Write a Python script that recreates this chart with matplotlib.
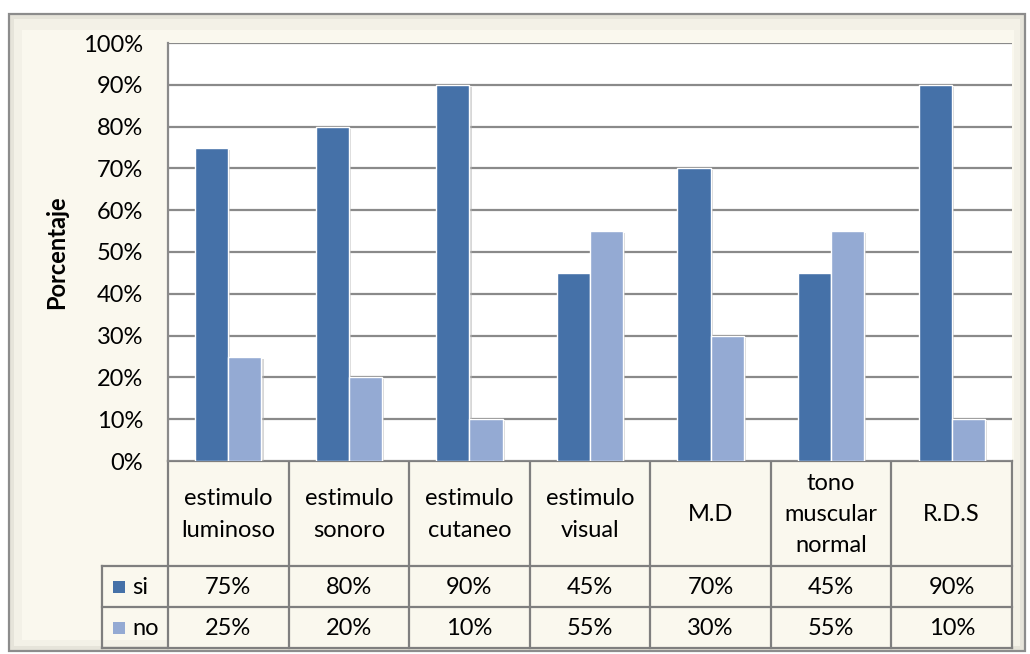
import matplotlib
matplotlib.use("Agg")
import matplotlib.pyplot as plt
from matplotlib.patches import Rectangle
from matplotlib.lines import Line2D
import matplotlib.patheffects as pe

categories = ["estimulo\nluminoso", "estimulo\nsonoro", "estimulo\ncutaneo",
              "estimulo\nvisual", "M.D", "tono\nmuscular\nnormal", "R.D.S"]
series_names = ["si", "no"]
si_values = [75, 80, 90, 45, 70, 45, 90]
no_values = [25, 20, 10, 55, 30, 55, 10]
yticks = [0, 10, 20, 30, 40, 50, 60, 70, 80, 90, 100]

W, H = 1030, 654
fig = plt.figure(figsize=(W / 100, H / 100), dpi=100)
fig.patch.set_facecolor("white")

FONT = "Lato"
FS = 17
COL_SI = "#4571A8"
COL_NO = "#94AAD3"
GRID = "#8A8A8A"
BG = "#FAF8EE"


def fx(px):
    return px / W


def fy(py):
    return 1 - py / H


# outer chart frame with a bevelled edge
frame = fig.add_axes([0, 0, 1, 1], zorder=0)
frame.set_xlim(0, W)
frame.set_ylim(H, 0)
frame.axis("off")
frame.add_patch(Rectangle((9, 14), 1016, 637, facecolor="#E6E4DA",
                          edgecolor="#8C8C8C", lw=1.6))
frame.add_patch(Rectangle((14, 19), 1006, 627, facecolor="#F3F1E7",
                          edgecolor="none"))
frame.add_patch(Rectangle((22, 30), 992, 610, facecolor=BG,
                          edgecolor="none"))

# plot area
L, R, T, B = 168, 1012, 43, 461
ax = fig.add_axes([fx(L), fy(B), fx(R) - fx(L), fy(T) - fy(B)], zorder=2)
ax.set_facecolor("white")
n = len(categories)
ax.set_xlim(0, n)
ax.set_ylim(0, 100)

bw = 0.275
xs = [i + 0.5 for i in range(n)]
shadow = [pe.SimplePatchShadow(offset=(1.5, -1.5), shadow_rgbFace="#B0B0B0",
                               alpha=0.5), pe.Normal()]
b1 = ax.bar([x - bw / 2 for x in xs], si_values, width=bw, color=COL_SI,
            edgecolor="white", lw=1.0, zorder=3)
b2 = ax.bar([x + bw / 2 for x in xs], no_values, width=bw, color=COL_NO,
            edgecolor="white", lw=1.0, zorder=3)
for b in list(b1) + list(b2):
    b.set_path_effects(shadow)

ax.set_yticks(yticks)
ax.set_yticklabels([f"{v}%" for v in yticks], fontfamily=FONT, fontsize=FS)
ax.yaxis.grid(True, color=GRID, lw=1.6, zorder=1)
ax.set_axisbelow(True)
ax.tick_params(axis="y", length=0, pad=18)
ax.set_xticks([])
for s in ["top", "right", "bottom"]:
    ax.spines[s].set_visible(False)
ax.spines["left"].set_color(GRID)
ax.spines["left"].set_linewidth(1.6)
ax.set_ylabel("Porcentaje", fontfamily=FONT, fontsize=17, fontweight="bold")
ax.yaxis.set_label_coords(-0.118, 0.5)

# data table under the plot
tab = fig.add_axes([0, 0, 1, 1], zorder=1)
tab.set_xlim(0, W)
tab.set_ylim(H, 0)
tab.axis("off")
lc = "#7F7F7F"
lw = 1.6
col_w = (R - L) / n
edges = [L + i * col_w for i in range(n + 1)]
row1, row2, row3 = 566, 607, 648
LEG = 102

tab.add_patch(Rectangle((L, B), R - L, row3 - B, facecolor=BG, edgecolor="none"))
tab.add_line(Line2D([L, R], [B, B], color=lc, lw=lw))
for y in (row1, row2, row3):
    tab.add_line(Line2D([LEG, R], [y, y], color=lc, lw=lw))
for x in edges:
    tab.add_line(Line2D([x, x], [B, row3], color=lc, lw=lw))
tab.add_line(Line2D([LEG, LEG], [row1, row3], color=lc, lw=lw))

for i, cat in enumerate(categories):
    cx = (edges[i] + edges[i + 1]) / 2
    tab.text(cx, (B + row1) / 2 + 1, cat, ha="center", va="center",
             fontfamily=FONT, fontsize=FS, linespacing=1.6)
    tab.text(cx, (row1 + row2) / 2 + 1, f"{si_values[i]}%", ha="center",
             va="center", fontfamily=FONT, fontsize=FS)
    tab.text(cx, (row2 + row3) / 2 + 1, f"{no_values[i]}%", ha="center",
             va="center", fontfamily=FONT, fontsize=FS)

for (ya, yb), name, col in zip([(row1, row2), (row2, row3)], series_names,
                               [COL_SI, COL_NO]):
    cy = (ya + yb) / 2
    tab.add_patch(Rectangle((113, cy - 6), 12, 12, facecolor=col,
                            edgecolor="none"))
    tab.text(132, cy + 1, name, ha="left", va="center", fontfamily=FONT,
             fontsize=FS)

fig.savefig("out.png", dpi=100, facecolor=fig.get_facecolor())
